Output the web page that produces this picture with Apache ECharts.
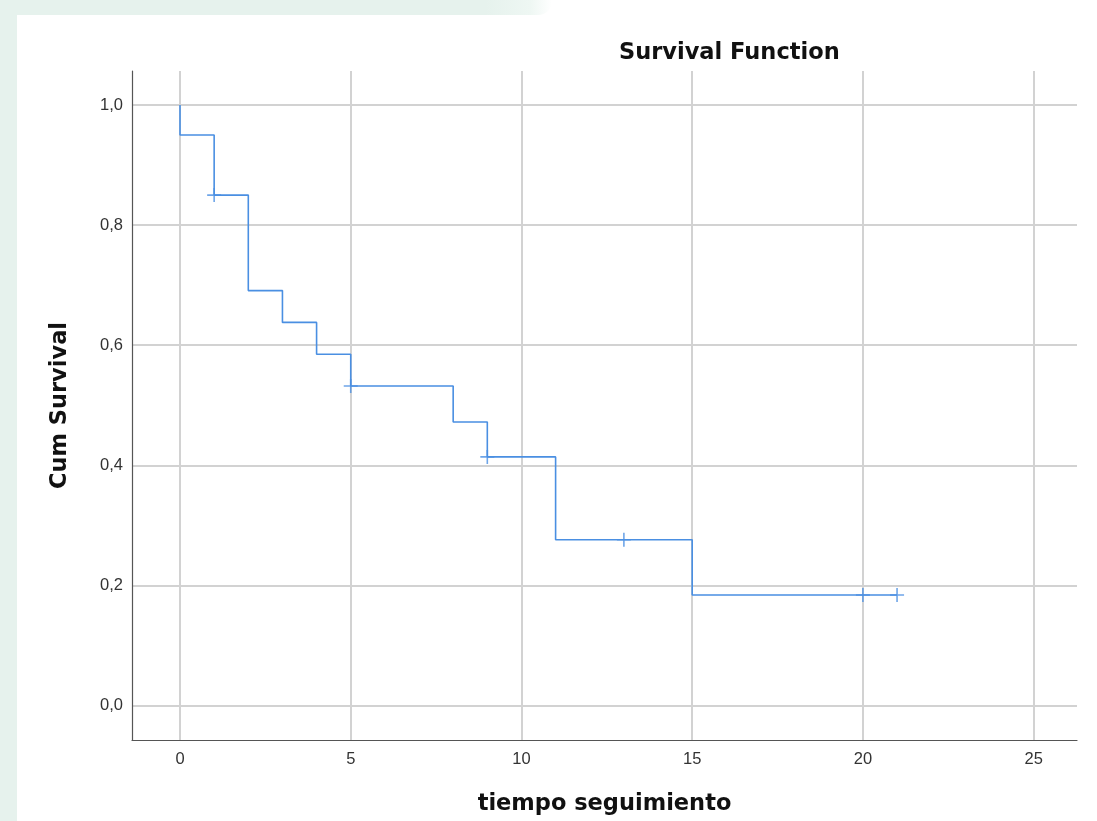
<!DOCTYPE html>
<html>
<head>
<meta charset="utf-8">
<script src="https://cdn.jsdelivr.net/npm/echarts@6/dist/echarts.min.js"></script>
<style>
  html, body { margin: 0; padding: 0; background: #fff; }
  #bgTop { position: absolute; left: 0; top: 0; width: 552px; height: 15px; background: linear-gradient(to right, #e6f2ed 88%, #eef7f3 96%, #fff); border-bottom-right-radius: 14px; }
  #bgLeft { position: absolute; left: 0; top: 0; width: 17px; height: 821px; background: #e6f2ed; }
  #main { position: absolute; left: 0; top: 0; width: 1097px; height: 821px; }
</style>
</head>
<body>
<div id="bgTop"></div>
<div id="bgLeft"></div>
<div id="main"></div>
<script>
// survival steps (time, cumulative survival after the event)
var stepTimes = [0, 0, 1, 2, 3, 4, 5, 8, 9, 11, 15, 21];
var stepSurv = [1.0, 0.95, 0.85, 0.691, 0.638, 0.585, 0.532, 0.472, 0.414, 0.276, 0.184, 0.184];
// censored observations
var censorTimes = [1, 5, 9, 13, 20, 21];
var censorSurv = [0.85, 0.532, 0.414, 0.276, 0.184, 0.184];
// tick values
var xTicks = [0, 5, 10, 15, 20, 25];
var yTicks = [0, 0.2, 0.4, 0.6, 0.8, 1.0];

var lineColor = '#4a8fe2';
var nameFont = { fontFamily: 'DejaVu Sans', fontWeight: 'bold', fontSize: 22.5, color: '#111' };

var lineData = stepTimes.map(function (t, i) { return [t, stepSurv[i]]; });
var censorData = censorTimes.map(function (t, i) { return [t, censorSurv[i]]; });

var myChart = echarts.init(document.getElementById('main'));
myChart.setOption({
    animation: false,
    title: {
        text: 'Survival Function',
        left: 614,
        top: 37,
        textStyle: nameFont
    },
    grid: { left: 132, top: 71, right: 20, bottom: 81 },
    xAxis: {
        type: 'value',
        min: -1.406,
        max: 26.27,
        name: 'tiempo seguimiento',
        nameLocation: 'middle',
        nameGap: 53,
        nameTextStyle: nameFont,
        axisLine: { show: true, onZero: false, lineStyle: { color: '#555', width: 1.2 } },
        axisTick: { show: false, customValues: xTicks },
        axisLabel: {
            customValues: xTicks,
            margin: 11,
            fontFamily: 'Liberation Sans',
            fontSize: 16.5,
            color: '#333'
        },
        splitLine: { show: true, lineStyle: { color: '#d2d2d2', width: 2 } }
    },
    yAxis: {
        type: 'value',
        min: -0.0575,
        max: 1.0567,
        name: 'Cum Survival',
        nameLocation: 'middle',
        nameRotate: 90,
        nameGap: 60,
        nameTextStyle: nameFont,
        axisLine: { show: true, onZero: false, lineStyle: { color: '#555', width: 1.2 } },
        axisTick: { show: false, customValues: yTicks },
        axisLabel: {
            customValues: yTicks,
            margin: 9,
            fontFamily: 'Liberation Sans',
            fontSize: 16.5,
            color: '#333',
            formatter: function (v) { return v.toFixed(1).replace('.', ','); }
        },
        splitLine: { show: true, lineStyle: { color: '#d2d2d2', width: 2 } }
    },
    series: [
        {
            name: 'Survival',
            type: 'line',
            step: 'end',
            data: lineData,
            showSymbol: false,
            symbol: 'none',
            lineStyle: { color: lineColor, width: 1.6 }
        },
        {
            name: 'Censored',
            type: 'scatter',
            data: censorData,
            symbol: 'path://M6.2,0H7.8V14H6.2Z M0,6.2H14V7.8H0Z',
            symbolSize: 14,
            itemStyle: { color: lineColor }
        }
    ]
});
</script>
</body>
</html>
